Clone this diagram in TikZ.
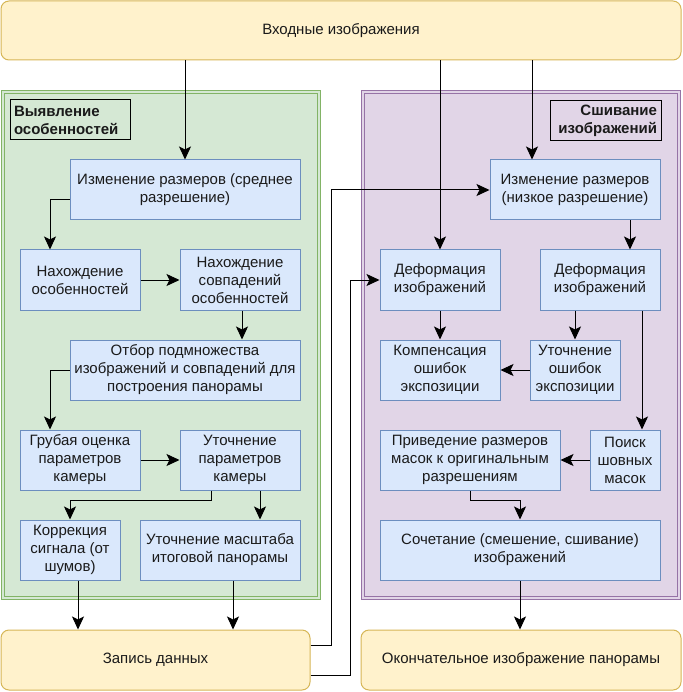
\documentclass[tikz,border=0pt]{standalone}
\usepackage{fontspec}
\setmainfont{Liberation Sans}
\usetikzlibrary{arrows.meta}
\definecolor{yfill}{HTML}{FFF2CC}
\definecolor{ystroke}{HTML}{D6B656}
\definecolor{gfill}{HTML}{D5E8D4}
\definecolor{gstroke}{HTML}{82B366}
\definecolor{pfill}{HTML}{E1D5E7}
\definecolor{pstroke}{HTML}{9673A6}
\definecolor{bfill}{HTML}{DAE8FC}
\definecolor{bstroke}{HTML}{6C8EBF}
\definecolor{txt}{HTML}{1A1A1A}
\begin{document}
\begin{tikzpicture}[x=1pt,y=-1pt,
  every node/.style={font=\fontsize{15}{18}\selectfont, text=txt},
  box/.style={draw=bstroke, fill=bfill, line width=1pt, align=center, inner sep=0pt},
  ybox/.style={draw=ystroke, fill=yfill, rounded corners=8pt, line width=1pt, align=center, inner sep=0pt},
  lab/.style={draw=black, line width=1pt, inner sep=3pt, font=\bfseries\fontsize{15}{18}\selectfont},
  cont/.style={line width=1pt, double distance=2pt},
  arr/.style={draw=black, line width=1pt, -{Stealth[length=13pt,width=12pt,inset=3pt]}}
]
\useasboundingbox (0,0) rectangle (682,692);
% containers
\draw[cont, draw=gstroke, double=gfill, fill=gfill] (2.5,92) rectangle (318.5,598);
\draw[cont, draw=pstroke, double=pfill, fill=pfill] (363,92) rectangle (679,598);
% labels
\node[lab, fill=gfill, minimum width=120pt, minimum height=40pt, align=left, text width=112pt] (lab1) at (70,120) {Выявление\\особенностей};
\node[lab, fill=pfill, minimum width=111pt, minimum height=40pt, align=right, text width=103pt] (lab2) at (605.5,120.5) {Сшивание\\изображений};
% top and bottom
\node[ybox, minimum width=680pt, minimum height=59pt] (top) at (341,30.5) {Входные изображения};
\node[ybox, minimum width=309pt, minimum height=60pt] (W) at (155.5,660) {Запись данных};
\node[ybox, minimum width=320pt, minimum height=60pt] (Y) at (521,660) {Окончательное изображение панорамы};
% left boxes
\node[box, minimum width=230pt, minimum height=60pt] (A) at (185,190) {Изменение размеров (среднее\\разрешение)};
\node[box, minimum width=120pt, minimum height=60pt] (B) at (80,280) {Нахождение\\особенностей};
\node[box, minimum width=120pt, minimum height=60pt] (C) at (240,280) {Нахождение\\совпадений\\особенностей};
\node[box, minimum width=230pt, minimum height=60pt] (D) at (185,370) {Отбор подмножества\\изображений и совпадений для\\построения панорамы};
\node[box, minimum width=120pt, minimum height=60pt] (E) at (80,460) {Грубая оценка\\параметров\\камеры};
\node[box, minimum width=120pt, minimum height=60pt] (F) at (240,460) {Уточнение\\параметров\\камеры};
\node[box, minimum width=100pt, minimum height=60pt] (G) at (70,550) {Коррекция\\сигнала (от\\шумов)};
\node[box, minimum width=160pt, minimum height=60pt] (H) at (220,550) {Уточнение масштаба\\итоговой панорамы};
% right boxes
\node[box, minimum width=170pt, minimum height=60pt] (R) at (575,190) {Изменение размеров\\(низкое разрешение)};
\node[box, minimum width=120pt, minimum height=60pt] (P) at (440,280) {Деформация\\изображений};
\node[box, minimum width=120pt, minimum height=60pt] (Q) at (600,280) {Деформация\\изображений};
\node[box, minimum width=120pt, minimum height=60pt] (S) at (440,370) {Компенсация\\ошибок\\экспозиции};
\node[box, minimum width=90pt, minimum height=60pt] (T) at (575,370) {Уточнение\\ошибок\\экспозиции};
\node[box, minimum width=70pt, minimum height=60pt] (U) at (625,460) {Поиск\\шовных\\масок};
\node[box, minimum width=180pt, minimum height=60pt] (V) at (470,460) {Приведение размеров\\масок к оригинальным\\разрешениям};
\node[box, minimum width=280pt, minimum height=60pt] (X) at (520,550) {Сочетание (смешение, сшивание)\\изображений};
% connectors
\draw[arr] (A.north |- top.south) -- (A.north);
\draw[arr] (P.north |- top.south) -- (P.north);
\draw[arr] (top.south -| 532,0) -- (R.north -| 532,0);
\draw[arr] ([yshift=-10pt]A.west) -| ([xshift=-30pt]B.north);
\draw[arr] (B.east) -- (C.west);
\draw[arr] ([xshift=2pt]C.south) -- ([xshift=2pt]C.south |- D.north);
\draw[arr] (D.west) -| ([xshift=-30pt]E.north);
\draw[arr] (E.east) -- (F.west);
\draw[arr] ([xshift=-29pt]F.south) -- ++(0,10) -| (G.north);
\draw[arr] ([xshift=20pt]F.south) -- ([xshift=20pt]F.south |- H.north);
\draw[arr] ([xshift=8pt]G.south) -- ([xshift=8pt]G.south |- W.north);
\draw[arr] ([xshift=13pt]H.south) -- ([xshift=13pt]H.south |- W.north);
\draw[arr] ([yshift=15pt]W.east) -- ++(21,0) |- (R.west);
\draw[arr] ([yshift=-15pt]W.east) -- ++(40,0) |- (P.west);
\draw[arr] ([xshift=55pt]R.south) -- ([xshift=55pt]R.south |- Q.north);
\draw[arr] (P.south) -- (S.north);
\draw[arr] ([xshift=-25pt]Q.south) -- (T.north);
\draw[arr] ([xshift=42pt]Q.south) -- ([xshift=42pt]Q.south |- U.north);
\draw[arr] (T.west) -- (S.east);
\draw[arr] (U.west) -- (V.east);
\draw[arr] (V.south) -- ++(0,10) -| (X.north);
\draw[arr] (X.south) -- (X.south |- Y.north);
\end{tikzpicture}
\end{document}
